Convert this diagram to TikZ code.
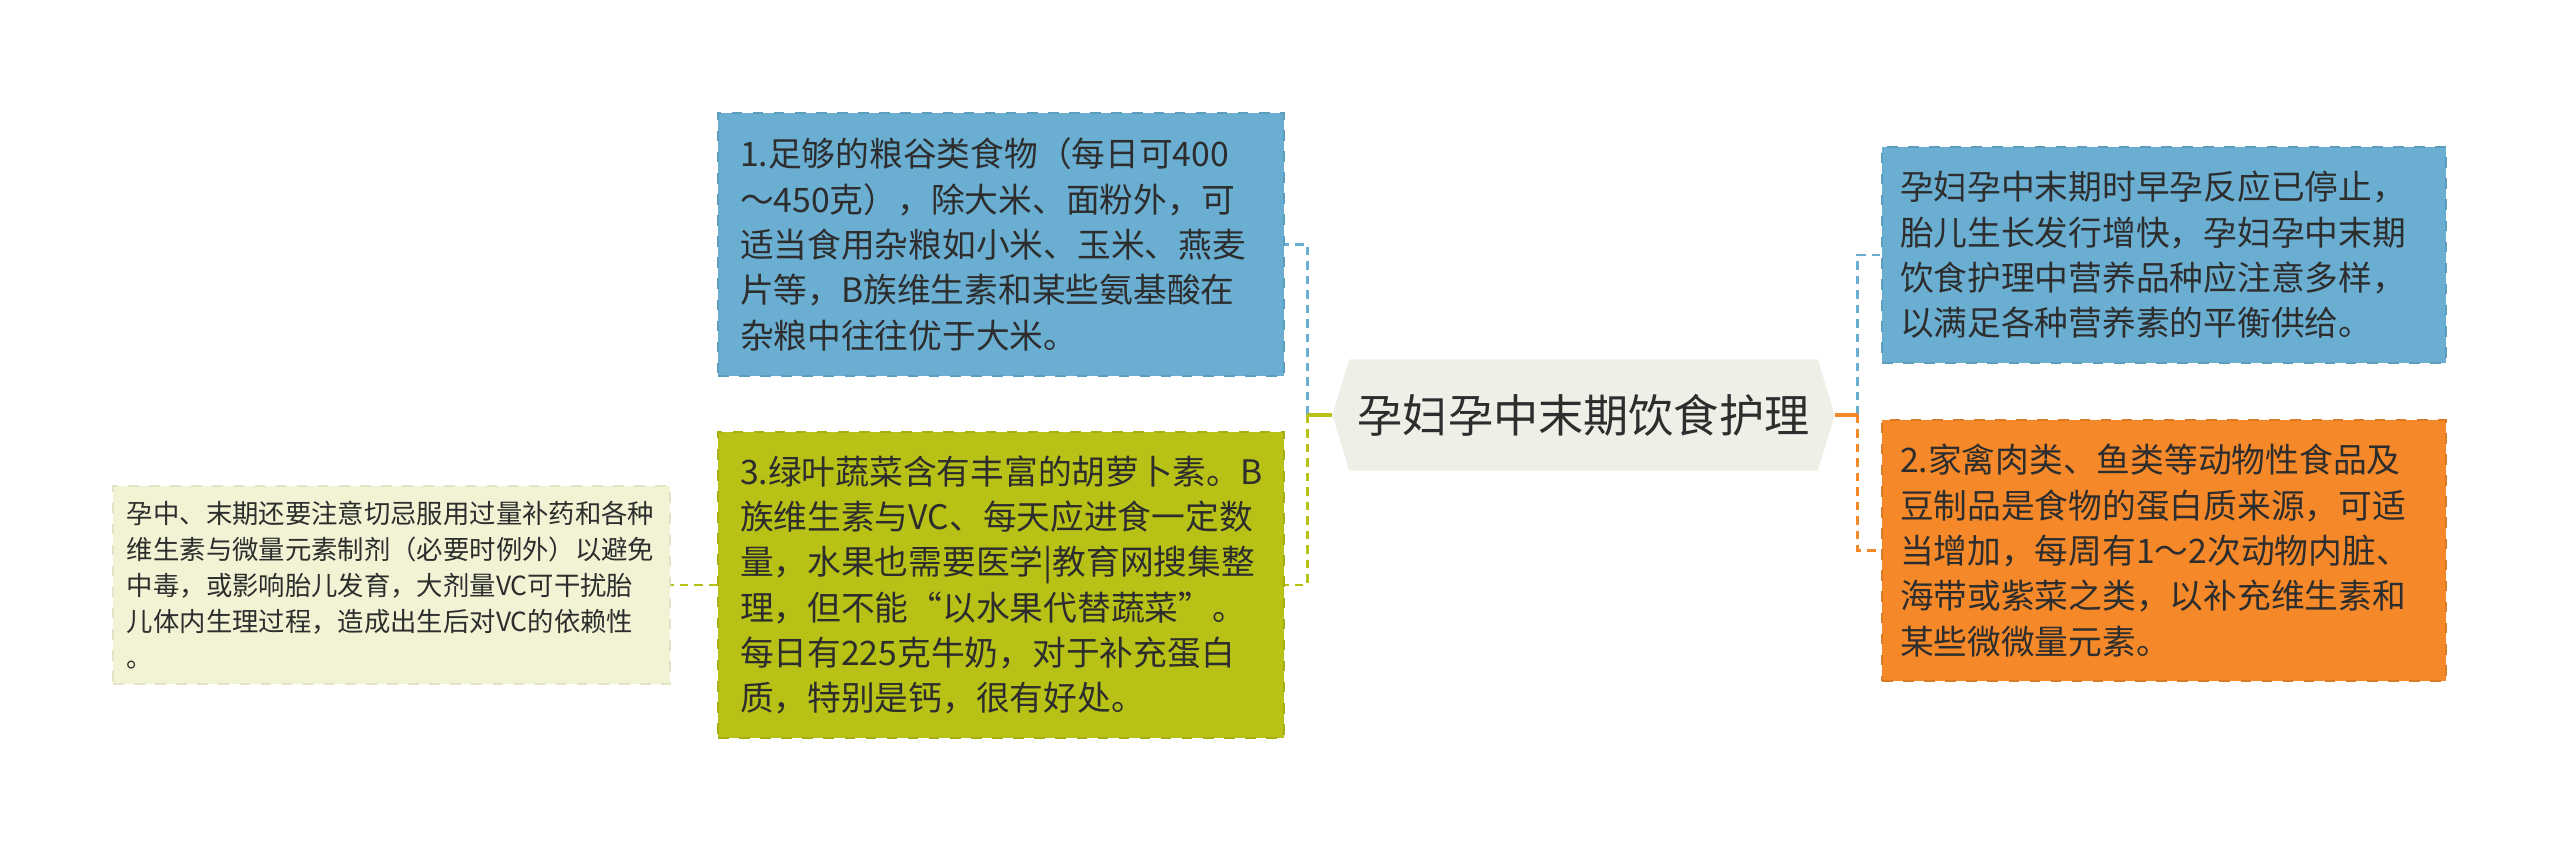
\documentclass[tikz,border=0pt]{standalone}
\usepackage{fontspec}
\setmainfont{Noto Sans CJK SC}
\usetikzlibrary{
  backgrounds,
  calc
}
\definecolor{ink}{RGB}{45,45,45}
\definecolor{skyfill}{RGB}{106,174,210}
\definecolor{limefill}{RGB}{184,193,22}
\definecolor{amberfill}{RGB}{245,137,42}
\definecolor{creamfill}{RGB}{241,243,212}
\definecolor{hubfill}{RGB}{239,239,231}

\begin{document}
\begin{tikzpicture}[
	leaf/.style={rectangle, align=left, text=ink, dashed, line width=0.5pt,
		inner xsep=0.22cm, inner ysep=0.05cm, text width=5.22cm,
		font=\fontsize{9.6pt}{12.9pt}\selectfont},
	link/.style={line width=0.8pt, dash pattern=on 0.085cm off 0.06cm},
]
	\useasboundingbox (0,0) rectangle (25.6,8.52);
	% centre topic
	\node[text=ink, minimum width=4.67cm, minimum height=1.1cm, inner sep=0pt,
		font=\fontsize{12.85pt}{15pt}\selectfont] (hub) at (15.835,4.37) {孕妇孕中末期饮食护理};
	\coordinate (tipl) at ($(hub.west)+(-0.17,0)$);
	\coordinate (tipr) at ($(hub.east)+(0.17,0)$);
	\begin{pgfonlayer}{background}
		\fill[hubfill] (hub.north west) -- (hub.north east) -- (tipr) -- (hub.south east) -- (hub.south west) -- (tipl) -- cycle;
	\end{pgfonlayer}
	% left branches
	\node[leaf, fill=skyfill, draw=skyfill!90!black, minimum height=2.63cm] (grain) at (10.01,6.075)
		{1.足够的粮谷类食物（每日可400\\～450克），除大米、面粉外，可\\适当食用杂粮如小米、玉米、燕麦\\片等，B族维生素和某些氨基酸在\\杂粮中往往优于大米。};
	\node[leaf, fill=limefill, draw=limefill!90!black, minimum height=3.06cm] (greens) at (10.01,2.67)
		{3.绿叶蔬菜含有丰富的胡萝卜素。B\\族维生素与VC、每天应进食一定数\\量，水果也需要医学|教育网搜集整\\理，但不能“以水果代替蔬菜”。\\每日有225克牛奶，对于补充蛋白\\质，特别是钙，很有好处。};
	\node[leaf, fill=creamfill, draw=creamfill!94!black, minimum height=1.98cm, inner xsep=0.14cm, text width=5.29cm,
		font=\fontsize{7.5pt}{10.2pt}\selectfont] (caution) at (3.915,2.67)
		{孕中、末期还要注意切忌服用过量补药和各种\\维生素与微量元素制剂（必要时例外）以避免\\中毒，或影响胎儿发育，大剂量VC可干扰胎\\儿体内生理过程，造成出生后对VC的依赖性\\。};
	% right branches
	\node[leaf, fill=skyfill, draw=skyfill!90!black, minimum height=2.16cm, inner xsep=0.18cm, text width=5.28cm] (variety) at (21.64,5.97)
		{孕妇孕中末期时早孕反应已停止，\\胎儿生长发行增快，孕妇孕中末期\\饮食护理中营养品种应注意多样，\\以满足各种营养素的平衡供给。};
	\node[leaf, fill=amberfill, draw=amberfill!90!black, minimum height=2.61cm, inner xsep=0.18cm, text width=5.28cm] (protein) at (21.64,3.015)
		{2.家禽肉类、鱼类等动物性食品及\\豆制品是食物的蛋白质来源，可适\\当增加，每周有1～2次动物内脏、\\海带或紫菜之类，以补充维生素和\\某些微微量元素。};
	\coordinate (jl) at ($(tipl)+(-0.25,0)$);
	\coordinate (jr) at ($(tipr)+(0.23,0)$);
	\draw[link, skyfill] (jl) |- (grain.east);
	\draw[link, limefill] (jl) |- (greens.east);
	\draw[link, limefill] (greens.west) -- (caution.east);
	\draw[link, skyfill] (jr) |- (variety.west);
	\draw[link, amberfill] (jr) |- (protein.west);
	\draw[limefill, line width=0.9pt] (tipl) -- (jl);
	\draw[amberfill, line width=0.9pt] (tipr) -- (jr);
\end{tikzpicture}
\end{document}
